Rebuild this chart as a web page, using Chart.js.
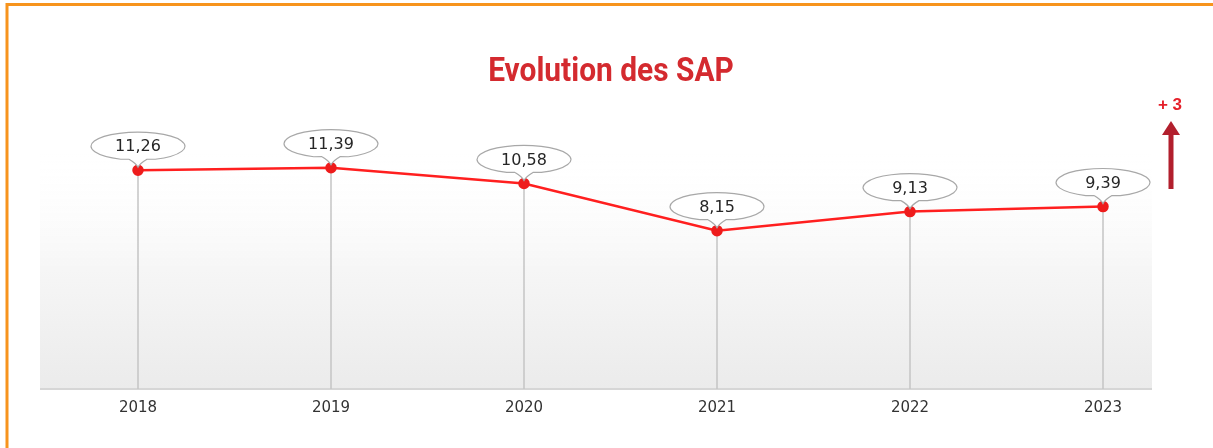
<!DOCTYPE html>
<html>
<head>
<meta charset="utf-8">
<script src="https://cdn.jsdelivr.net/npm/chart.js@4/dist/chart.umd.min.js"></script>
<style>
  html, body { margin: 0; padding: 0; background: #fff; }
  #wrap { width: 1213px; height: 448px; position: relative; }
</style>
</head>
<body>
<div id="wrap"><canvas id="sapChart"></canvas></div>
<script>
const years = ['2018', '2019', '2020', '2021', '2022', '2023'];
const sapValues = [11.26, 11.39, 10.58, 8.15, 9.13, 9.39];
const bubbleLabels = ['11,26', '11,39', '10,58', '8,15', '9,13', '9,39'];
const chartTitle = 'Evolution des SAP';
const trendLabel = '+ 3';

// frame, grey backdrop, drop lines, bubbles, title and the trend arrow
const decorations = {
    id: 'decorations',
    beforeDraw(chart) {
        const { ctx, scales: { y } } = chart;
        const base = y.getPixelForValue(0);
        ctx.save();
        // grey fade behind the plot
        const grad = ctx.createLinearGradient(0, base, 0, 150);
        grad.addColorStop(0, '#ebebeb');
        grad.addColorStop(0.5, '#f6f6f6');
        grad.addColorStop(1, 'rgba(255,255,255,0)');
        ctx.fillStyle = grad;
        ctx.fillRect(40, 150, 1112, base - 150);
        // baseline
        ctx.strokeStyle = '#d6d6d6';
        ctx.lineWidth = 2;
        ctx.beginPath();
        ctx.moveTo(40, base);
        ctx.lineTo(1152, base);
        ctx.stroke();
        // drop lines
        const meta = chart.getDatasetMeta(0);
        ctx.strokeStyle = '#c4c4c4';
        ctx.lineWidth = 1.5;
        meta.data.forEach(pt => {
            ctx.beginPath();
            ctx.moveTo(pt.x, pt.y);
            ctx.lineTo(pt.x, base);
            ctx.stroke();
        });
        ctx.restore();
    },
    afterDraw(chart) {
        const { ctx } = chart;
        ctx.save();
        // orange frame (top + left)
        ctx.strokeStyle = '#f7941d';
        ctx.lineWidth = 3;
        ctx.beginPath();
        ctx.moveTo(7, 448);
        ctx.lineTo(7, 4.5);
        ctx.lineTo(1213, 4.5);
        ctx.stroke();

        // title, condensed
        ctx.save();
        ctx.translate(611, 72);
        ctx.scale(0.88, 1);
        ctx.fillStyle = '#d42a2f';
        ctx.font = 'bold 34px Roboto';
        ctx.textAlign = 'center';
        ctx.textBaseline = 'middle';
        ctx.fillText(chartTitle, 0, 0);
        ctx.restore();

        // value bubbles
        const meta = chart.getDatasetMeta(0);
        meta.data.forEach((pt, i) => {
            const cx = pt.x, cy = pt.y - 24;
            const rx = 47, ry = 14;
            ctx.beginPath();
            ctx.moveTo(cx - 9, cy + ry - 1);
            ctx.ellipse(cx, cy, rx, ry, 0, Math.PI * 0.62, Math.PI * 2.38);
            ctx.lineTo(cx + 9, cy + ry - 1);
            ctx.quadraticCurveTo(cx + 2, cy + ry + 3, pt.x, pt.y - 3);
            ctx.quadraticCurveTo(cx - 2, cy + ry + 3, cx - 9, cy + ry - 1);
            ctx.fillStyle = '#ffffff';
            ctx.fill();
            ctx.strokeStyle = '#a8a8a8';
            ctx.lineWidth = 1.2;
            ctx.stroke();
            ctx.fillStyle = '#262626';
            ctx.font = '16px "DejaVu Sans"';
            ctx.textAlign = 'center';
            ctx.textBaseline = 'middle';
            ctx.fillText(bubbleLabels[i], cx, cy + 1);
        });

        // trend annotation
        ctx.fillStyle = '#e5202a';
        ctx.font = 'bold 17px "Liberation Sans"';
        ctx.textAlign = 'center';
        ctx.textBaseline = 'middle';
        ctx.fillText(trendLabel, 1170, 105);
        ctx.fillStyle = '#b21f2d';
        ctx.fillRect(1168.5, 134, 5, 55);
        ctx.beginPath();
        ctx.moveTo(1171, 121);
        ctx.lineTo(1180, 135);
        ctx.lineTo(1162, 135);
        ctx.closePath();
        ctx.fill();
        ctx.restore();
    }
};

new Chart(document.getElementById('sapChart'), {
    type: 'line',
    data: {
        labels: years,
        datasets: [{
            data: sapValues,
            borderColor: '#ff1f1f',
            borderWidth: 2.5,
            pointBackgroundColor: '#ee1c1c',
            pointBorderColor: '#ee1c1c',
            pointRadius: 4.5,
            tension: 0,
            fill: false
        }]
    },
    options: {
        responsive: true,
        maintainAspectRatio: false,
        animation: false,
        layout: { padding: { left: 138, right: 110, top: 117, bottom: 21 } },
        scales: {
            x: {
                offset: false,
                grid: { display: false, drawTicks: false },
                border: { display: false },
                ticks: { color: '#333', font: { family: 'DejaVu Sans', size: 15 }, padding: 10, maxRotation: 0 }
            },
            y: { display: false, min: 0, max: 14 }
        },
        plugins: {
            legend: { display: false },
            tooltip: { enabled: false },
            title: { display: false }
        }
    },
    plugins: [decorations]
});
</script>
</body>
</html>
